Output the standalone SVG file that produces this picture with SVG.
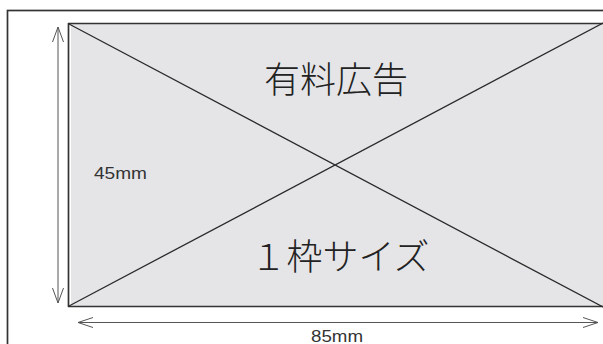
<svg xmlns="http://www.w3.org/2000/svg" width="603" height="344" viewBox="0 0 603 344">
<style>
.frame{fill:none;stroke:#333;stroke-width:1.7}
.diag{stroke:#2a2a2a;stroke-width:1.3;fill:none}
.dim{stroke:#555;stroke-width:1;fill:none}
.big{font-family:"Noto Sans CJK JP","Noto Sans",sans-serif;font-size:36px;font-weight:300;fill:#222;text-anchor:middle}
.small{font-family:"Liberation Sans",Arial,sans-serif;font-size:16px;fill:#333}
</style>
<rect width="603" height="344" fill="#fff"/>
<g id="outer-frame">
<rect class="frame" x="7.5" y="10.5" width="610" height="350"/>
</g>
<g id="ad-box">
<rect x="71" y="23" width="532" height="284" fill="#e5e5e7"/>
<path class="frame" d="M68.5 23 V307 M68 23.5 H603 M68 306.5 H603"/>
<text class="big" x="336" y="93">有料広告</text>
<text class="big" x="340" y="270">１枠サイズ</text>
</g>
<g id="connectors">
<path class="diag" d="M69 24 L603 307 M69 306 L603 23"/>
<path class="dim" d="M58 27 V303 M52.5 42 L58 27 L63.5 42 M52.5 288 L58 303 L63.5 288"/>
<path class="dim" d="M78 322.5 H598 M93 317.5 L78 322.5 L93 327.5 M583 317.5 L598 322.5 L583 327.5"/>
</g>
<g id="labels">
<text class="small" x="94" y="179" textLength="53" lengthAdjust="spacingAndGlyphs">45mm</text>
<text class="small" x="311" y="342" textLength="52" lengthAdjust="spacingAndGlyphs">85mm</text>
</g>
</svg>
